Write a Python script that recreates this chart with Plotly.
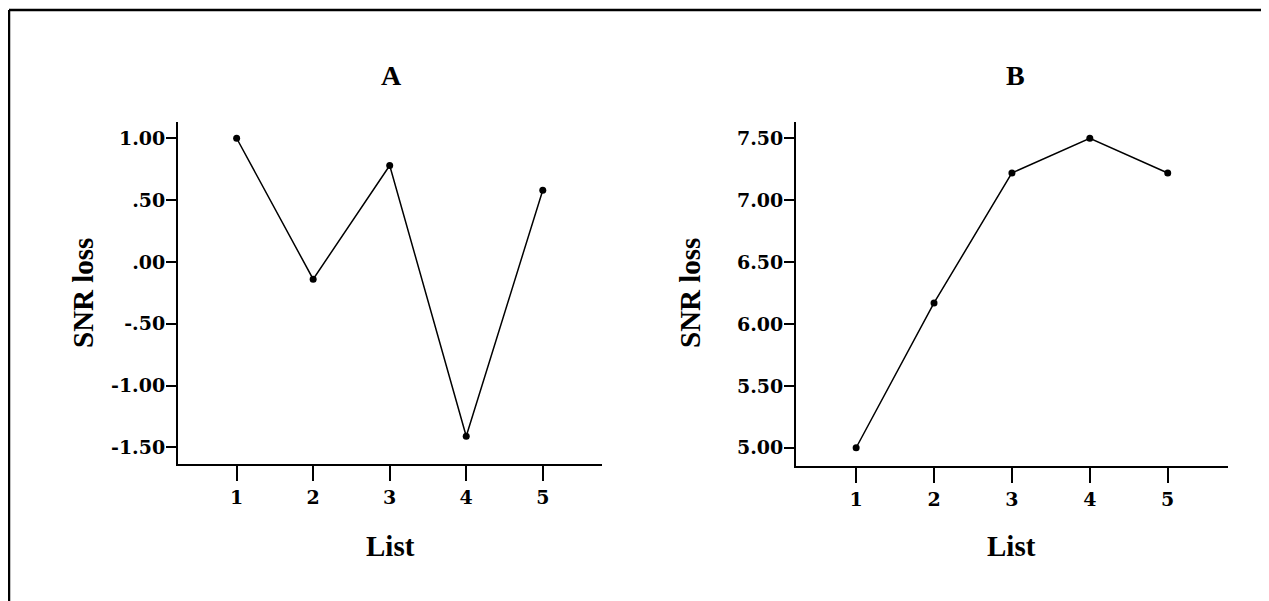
import plotly.graph_objects as go

# Data
lists = [1, 2, 3, 4, 5]
snr_loss_a = [1.00, -0.14, 0.78, -1.41, 0.58]
snr_loss_b = [5.00, 6.17, 7.22, 7.50, 7.22]
yticks_a = [1.0, 0.5, 0.0, -0.5, -1.0, -1.5]
yticklabels_a = ["1.00", ".50", ".00", "-.50", "-1.00", "-1.50"]
yticks_b = [7.5, 7.0, 6.5, 6.0, 5.5, 5.0]
yticklabels_b = ["7.50", "7.00", "6.50", "6.00", "5.50", "5.00"]
panel_titles = ["A", "B"]
x_title = "List"
y_title = "SNR loss"

OFF = 8  # browser body margin
W, H = 1269 - OFF, 601 - OFF
FONT = "Liberation Serif"
TICKFONT = "DejaVu Serif"

fig = go.Figure()
fig.add_trace(go.Scatter(x=lists, y=snr_loss_a, mode="lines+markers",
                         line=dict(color="black", width=1.5),
                         marker=dict(color="black", size=7),
                         xaxis="x", yaxis="y", showlegend=False))
fig.add_trace(go.Scatter(x=lists, y=snr_loss_b, mode="lines+markers",
                         line=dict(color="black", width=1.5),
                         marker=dict(color="black", size=7),
                         xaxis="x2", yaxis="y2", showlegend=False))

def px_x(p):
    return (p - OFF) / W

def px_y(p):
    return 1 - (p - OFF) / H

tickfont = dict(family=TICKFONT, size=19, color="black", weight="bold")
common_x = dict(tickmode="array", tickvals=lists, ticktext=[str(v) for v in lists],
                showline=True, linecolor="black", linewidth=2, ticks="outside",
                ticklen=15, tickwidth=1.5, tickcolor="black", showgrid=False,
                zeroline=False, tickfont=tickfont, fixedrange=True)
common_y = dict(tickmode="array", showline=True, linecolor="black", linewidth=2,
                ticks="outside", ticklen=10, tickwidth=2, tickcolor="black",
                showgrid=False, zeroline=False, tickfont=tickfont, fixedrange=True,
                ticklabelstandoff=-3)

fig.update_layout(
    width=W, height=H,
    margin=dict(l=0, r=0, t=0, b=0),
    paper_bgcolor="white", plot_bgcolor="white",
    xaxis=dict(domain=[px_x(178), px_x(601.7)], range=[0.234, 5.77], anchor="y", **common_x),
    yaxis=dict(domain=[px_y(464.3), px_y(121.7)], range=[-1.6375, 1.134], anchor="x",
               tickvals=yticks_a, ticktext=yticklabels_a, **common_y),
    xaxis2=dict(domain=[px_x(796), px_x(1227.7)], range=[0.228, 5.77], anchor="y2", **common_x),
    yaxis2=dict(domain=[px_y(465.7), px_y(121.7)], range=[4.855, 7.634], anchor="x2",
                tickvals=yticks_b, ticktext=yticklabels_b, **common_y),
)

annos = []
# Panel titles
for t, cx in zip(panel_titles, [392, 1015]):
    annos.append(dict(text=f"<b>{t}</b>", x=px_x(cx), y=px_y(75), xref="paper", yref="paper",
                      showarrow=False, xanchor="center", yanchor="middle",
                      font=dict(family=FONT, size=28, color="black")))
# Axis titles
for cx in [390, 1012]:
    annos.append(dict(text=f"<b>{x_title}</b>", x=px_x(cx), y=px_y(546), xref="paper", yref="paper",
                      showarrow=False, xanchor="center", yanchor="middle",
                      font=dict(family=FONT, size=29, color="black")))
for cx in [83, 690]:
    annos.append(dict(text=f"<b>{y_title}</b>", x=px_x(cx), y=px_y(293), xref="paper", yref="paper",
                      showarrow=False, xanchor="center", yanchor="middle", textangle=-90,
                      font=dict(family=FONT, size=29, color="black")))
fig.update_layout(annotations=annos)

# Outer frame (left and top edges visible)
fig.add_shape(type="line", xref="paper", yref="paper", x0=px_x(9), x1=px_x(9), y0=0, y1=px_y(10),
              line=dict(color="black", width=2.5))
fig.add_shape(type="line", xref="paper", yref="paper", x0=px_x(9), x1=1, y0=px_y(10), y1=px_y(10),
              line=dict(color="black", width=2.5))

fig.write_html("out.html")
